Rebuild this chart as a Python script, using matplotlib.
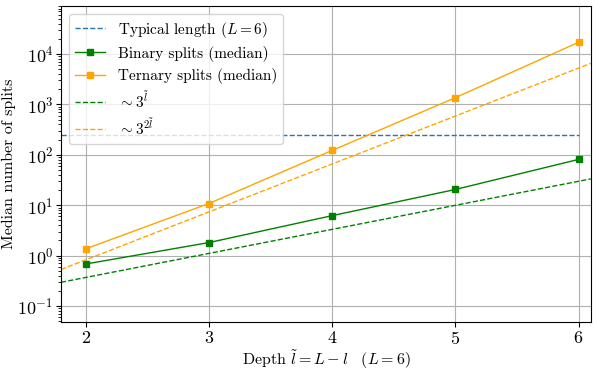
import matplotlib
matplotlib.use("Agg")
import matplotlib.pyplot as plt
from matplotlib.ticker import NullFormatter

plt.rcParams['font.family'] = 'serif'
plt.rcParams['font.serif'] = ['cmr10']
plt.rcParams['mathtext.fontset'] = 'cm'
plt.rcParams['axes.formatter.use_mathtext'] = True
plt.rcParams['font.size'] = 11
plt.rcParams['axes.unicode_minus'] = True

# depth values and medians
depth = [2, 3, 4, 5, 6]
binary_median = [0.68, 1.81, 6.2, 20.5, 81]
ternary_median = [1.36, 10.8, 122, 1360, 17100]

# reference scaling lines (values at the plot edges)
ref_x = [1.8, 6.1]
ref_3l = [0.295, 33.3]
ref_32l = [0.53, 6540]

typical_x = [1.8, 6]
typical_len = [243, 243]

y_ticks = [0.1, 1, 10, 100, 1000, 10000]

fig, ax = plt.subplots(figsize=(5.98, 3.74), dpi=100)
ax.plot(typical_x, typical_len, '--', color='tab:blue', lw=1, label=r"Typical length ($L=6$)")
ax.plot(depth, binary_median, 's-', color='green', lw=1, ms=4, label="Binary splits (median)")
ax.plot(depth, ternary_median, 's-', color='orange', lw=1, ms=4, label="Ternary splits (median)")
ax.plot(ref_x, ref_3l, '--', color='green', lw=1, label=r"$\sim 3^{\tilde{l}}$")
ax.plot(ref_x, ref_32l, '--', color='orange', lw=1, label=r"$\sim 3^{2\tilde{l}}$")

ax.set_yscale('log')
ax.set_xlim(1.8, 6.1)
ax.set_ylim(0.048, 9e4)
ax.set_xticks(depth)
ax.set_yticks(y_ticks)
ax.yaxis.set_minor_formatter(NullFormatter())
ax.tick_params(labelsize=13, pad=2)
ax.grid(True, which='major', color='#b0b0b0', lw=0.8)
ax.set_xlabel(r"Depth $\tilde{l} = L - l\ \ \ (L=6)$", fontsize=11.5, labelpad=1)
ax.set_ylabel("Median number of splits", fontsize=11.5, labelpad=1)
ax.legend(loc='upper left', fontsize=11, labelspacing=0.4)

plt.subplots_adjust(left=0.102, right=0.988, top=0.984, bottom=0.139)
plt.savefig("out.png", dpi=100)
